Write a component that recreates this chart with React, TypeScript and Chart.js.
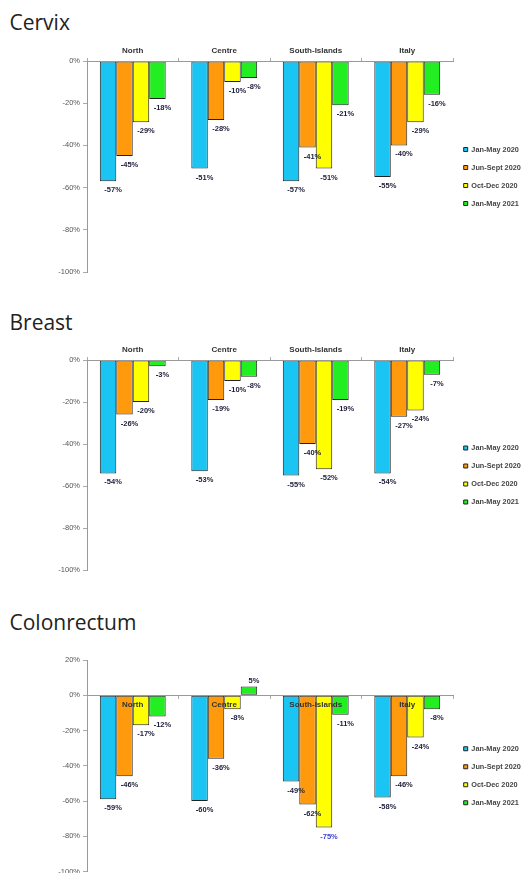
import React, { useEffect, useRef } from "react";
import { Chart, registerables } from "chart.js";

Chart.register(...registerables);

// ---- data ----
const regions = ["North", "Centre", "South-Islands", "Italy"];
const periods = ["Jan-May 2020", "Jun-Sept 2020", "Oct-Dec 2020", "Jan-May 2021"];
const periodColors = ["#1BC5F3", "#FF9A0D", "#FFFF00", "#22EE22"];

const cervixJanMay2020 = [-57, -51, -57, -55];
const cervixJunSep2020 = [-45, -28, -41, -40];
const cervixOctDec2020 = [-29, -10, -51, -29];
const cervixJanMay2021 = [-18, -8, -21, -16];

const breastJanMay2020 = [-54, -53, -55, -54];
const breastJunSep2020 = [-26, -19, -40, -27];
const breastOctDec2020 = [-20, -10, -52, -24];
const breastJanMay2021 = [-3, -8, -19, -7];

const colonJanMay2020 = [-59, -60, -49, -58];
const colonJunSep2020 = [-46, -36, -62, -46];
const colonOctDec2020 = [-17, -8, -75, -24];
const colonJanMay2021 = [-12, 5, -11, -8];

const ticksNegative = [0, -20, -40, -60, -80, -100];
const ticksColon = [20, 0, -20, -40, -60, -80, -100];

const FONT = "'Liberation Sans', Arial, sans-serif";

const valueLabels = {
  id: "valueLabels",
  afterDatasetsDraw(chart: any, _args: any, opts: any) {
    const ctx = chart.ctx;
    ctx.save();
    ctx.font = `bold 7.5px ${FONT}`;
    ctx.textAlign = "center";
    ctx.textBaseline = "middle";
    chart.data.datasets.forEach((ds: any, di: number) => {
      const meta = chart.getDatasetMeta(di);
      meta.data.forEach((bar: any, i: number) => {
        const v = ds.data[i] as number;
        const hl = opts && opts.highlight && opts.highlight[0] === di && opts.highlight[1] === i;
        ctx.fillStyle = hl ? "#4040d0" : "#1d1d3a";
        const y = v < 0 ? bar.y + 9 : bar.y - 6;
        ctx.fillText(`${v}%`, bar.x + 5, y);
      });
    });
    ctx.restore();
  },
};

type PanelProps = {
  title: string;
  titleTop: number;
  top: number;
  series: number[][];
  yTicks: number[];
  xOnTop: boolean;
  padTop: number;
  padBottom: number;
  highlight?: [number, number];
};

function Panel({ title, titleTop, top, series, yTicks, xOnTop, padTop, padBottom, highlight }: PanelProps) {
  const ref = useRef<HTMLCanvasElement | null>(null);
  useEffect(() => {
    if (!ref.current) return;
    const chart = new Chart(ref.current, {
      type: "bar",
      data: {
        labels: regions,
        datasets: series.map((d, k) => ({
          label: periods[k],
          data: d,
          backgroundColor: periodColors[k],
          borderColor: "#222",
          borderWidth: 1,
          borderSkipped: false,
          categoryPercentage: 0.72,
          barPercentage: 1.0,
        })),
      },
      options: {
        responsive: true,
        maintainAspectRatio: false,
        animation: false,
        layout: { padding: { top: padTop, bottom: padBottom, left: 57, right: 0 } },
        scales: {
          x: {
            position: xOnTop ? "top" : ({ y: 0 } as any),
            grid: { drawOnChartArea: false, tickLength: 3, color: "#aaa", offset: true, z: 1 },
            border: { color: "#999", z: 1 },
            ticks: { color: "#333", padding: 2, z: 1, font: { size: 8, weight: "bold", family: FONT } },
            afterFit: (s: any) => {
              s.height = 16;
            },
          },
          y: {
            min: yTicks[yTicks.length - 1],
            max: yTicks[0],
            afterBuildTicks: (s: any) => {
              s.ticks = yTicks.map((v) => ({ value: v }));
            },
            afterFit: (s: any) => {
              s.width = 30;
            },
            grid: { drawOnChartArea: false, tickLength: 4, color: "#aaa" },
            border: { color: "#999" },
            ticks: {
              color: "#555",
              padding: 3,
              font: { size: 7.5, family: FONT },
              callback: (v: any) => `${v}%`,
            },
          },
        },
        plugins: {
          legend: {
            position: "right",
            fullSize: false,
            maxWidth: 70,
            title: { display: true, text: "", font: { size: 10 }, padding: { top: 8, bottom: 0 } },
            labels: {
              boxWidth: 4,
              boxHeight: 4,
              padding: 10.7,
              color: "#444",
              font: { size: 7.3, weight: "bold", family: FONT },
            },
          },
          tooltip: { enabled: false },
          valueLabels: { highlight },
        } as any,
      },
      plugins: [valueLabels],
    });
    return () => chart.destroy();
  }, []);

  return (
    <>
      <div
        style={{
          position: "absolute",
          top: titleTop,
          left: 9.5,
          fontFamily: "'Open Sans', sans-serif",
          fontSize: 21,
          lineHeight: "21px",
          color: "#222",
        }}
      >
        {title}
      </div>
      <div style={{ position: "absolute", top, left: 0, width: 523, height: 250 }}>
        <canvas ref={ref} />
      </div>
    </>
  );
}

export default function App() {
  return (
    <div
      style={{
        position: "absolute",
        top: 0,
        left: 0,
        width: 523,
        height: 873,
        overflow: "hidden",
        background: "#fff",
      }}
    >
      <Panel
        title="Cervix"
        titleTop={12}
        top={30}
        series={[cervixJanMay2020, cervixJunSep2020, cervixOctDec2020, cervixJanMay2021]}
        yTicks={ticksNegative}
        xOnTop={true}
        padTop={15}
        padBottom={8}
      />
      <Panel
        title="Breast"
        titleTop={312}
        top={329}
        series={[breastJanMay2020, breastJunSep2020, breastOctDec2020, breastJanMay2021]}
        yTicks={ticksNegative}
        xOnTop={true}
        padTop={15}
        padBottom={9}
      />
      <Panel
        title="Colonrectum"
        titleTop={612}
        top={629}
        series={[colonJanMay2020, colonJunSep2020, colonOctDec2020, colonJanMay2021]}
        yTicks={ticksColon}
        xOnTop={false}
        padTop={31}
        padBottom={7}
        highlight={[2, 2]}
      />
    </div>
  );
}
